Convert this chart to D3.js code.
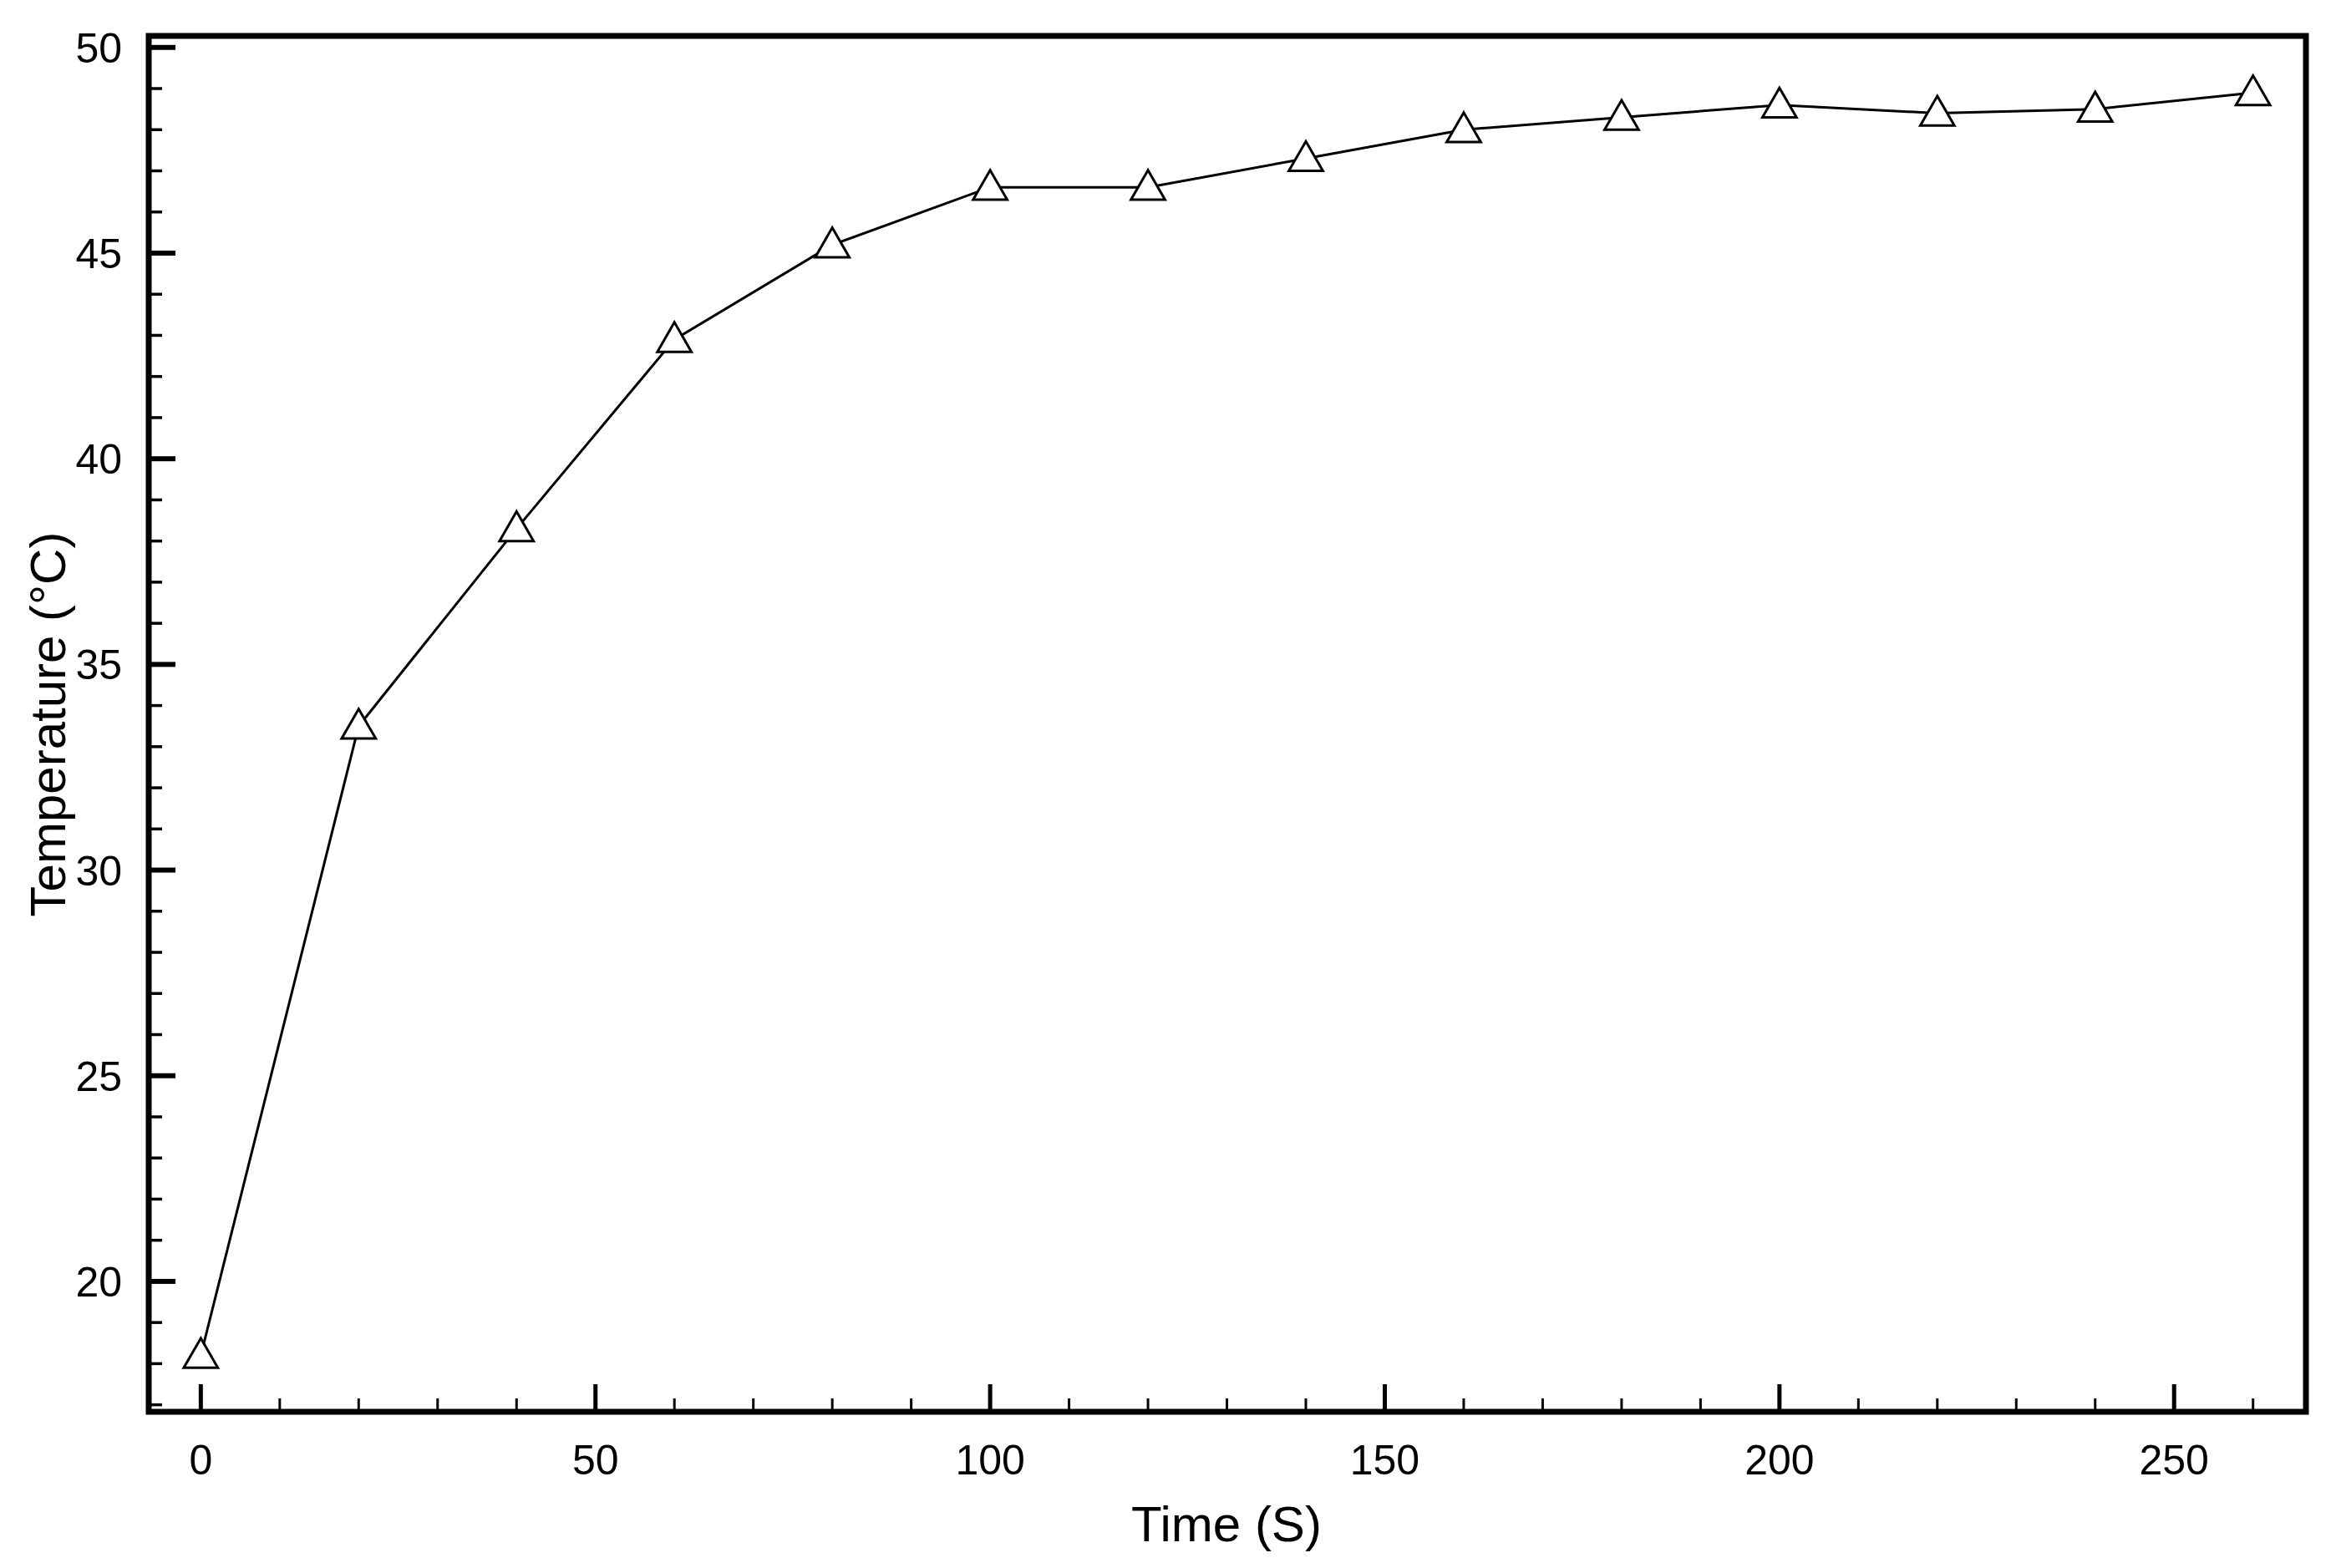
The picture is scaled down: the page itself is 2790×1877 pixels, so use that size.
<!DOCTYPE html>
<html>
<head>
<meta charset="utf-8">
<script src="https://d3js.org/d3.v7.min.js"></script>
<style>
  body { margin: 0; background: #fff; }
  text { font-family: "Liberation Sans", Arial, sans-serif; fill: #000; }
</style>
</head>
<body>
<svg id="chart" width="2790" height="1877"></svg>
<script>
const times = [0, 20, 40, 60, 80, 100, 120, 140, 160, 180, 200, 220, 240, 260];
const temps = [18.2, 33.5, 38.3, 42.9, 45.2, 46.6, 46.6, 47.3, 48.0, 48.3, 48.6, 48.4, 48.5, 48.9];
const xTicks = [0, 50, 100, 150, 200, 250];
const yTicks = [20, 25, 30, 35, 40, 45, 50];

const svg = d3.select('#chart');
const plotLeft = 178, plotRight = 2760, plotTop = 43, plotBottom = 1690;

const x = d3.scaleLinear().domain([-6.6, 266.7]).range([plotLeft, plotRight]);
const y = d3.scaleLinear().domain([16.83, 50.28]).range([plotBottom, plotTop]);

// minor ticks
const xMinor = d3.range(0, 261, 10).filter(v => v % 50 !== 0);
const yMinor = d3.range(17, 51, 1).filter(v => v % 5 !== 0);

svg.append('g').selectAll('line').data(xMinor).join('line')
  .attr('x1', d => x(d)).attr('x2', d => x(d))
  .attr('y1', plotBottom).attr('y2', plotBottom - 16)
  .attr('stroke', '#000').attr('stroke-width', 3);
svg.append('g').selectAll('line').data(xTicks).join('line')
  .attr('x1', d => x(d)).attr('x2', d => x(d))
  .attr('y1', plotBottom).attr('y2', plotBottom - 33)
  .attr('stroke', '#000').attr('stroke-width', 5);
svg.append('g').selectAll('line').data(yMinor).join('line')
  .attr('x1', plotLeft).attr('x2', plotLeft + 16)
  .attr('y1', d => y(d)).attr('y2', d => y(d))
  .attr('stroke', '#000').attr('stroke-width', 3.5);
svg.append('g').selectAll('line').data(yTicks).join('line')
  .attr('x1', plotLeft).attr('x2', plotLeft + 32)
  .attr('y1', d => y(d)).attr('y2', d => y(d))
  .attr('stroke', '#000').attr('stroke-width', 6);

// tick labels
svg.append('g').selectAll('text').data(xTicks).join('text')
  .attr('x', d => x(d)).attr('y', 1765)
  .attr('text-anchor', 'middle').attr('font-size', 50)
  .text(d => d);
svg.append('g').selectAll('text').data(yTicks).join('text')
  .attr('x', 146).attr('y', d => y(d) + 18)
  .attr('text-anchor', 'end').attr('font-size', 50)
  .text(d => d);

// frame
svg.append('rect')
  .attr('x', plotLeft).attr('y', plotTop)
  .attr('width', plotRight - plotLeft).attr('height', plotBottom - plotTop)
  .attr('fill', 'none').attr('stroke', '#000').attr('stroke-width', 7);

// line + markers
const pts = times.map((t, i) => [t, temps[i]]);
svg.append('path')
  .datum(pts)
  .attr('d', d3.line().x(d => x(d[0])).y(d => y(d[1])))
  .attr('fill', 'none').attr('stroke', '#000').attr('stroke-width', 3);

const tri = d3.symbol().type(d3.symbolTriangle).size(720);
svg.append('g').selectAll('path').data(pts).join('path')
  .attr('transform', d => `translate(${x(d[0])},${y(d[1]) + 3})`)
  .attr('d', tri)
  .attr('fill', '#fff').attr('stroke', '#000').attr('stroke-width', 3);

// axis titles
svg.append('text')
  .attr('x', 1468).attr('y', 1845)
  .attr('text-anchor', 'middle').attr('font-size', 60)
  .text('Time (S)');
svg.append('text')
  .attr('transform', 'translate(78,867) rotate(-90)')
  .attr('text-anchor', 'middle').attr('font-size', 60)
  .text('Temperature (°C)');
</script>
</body>
</html>
